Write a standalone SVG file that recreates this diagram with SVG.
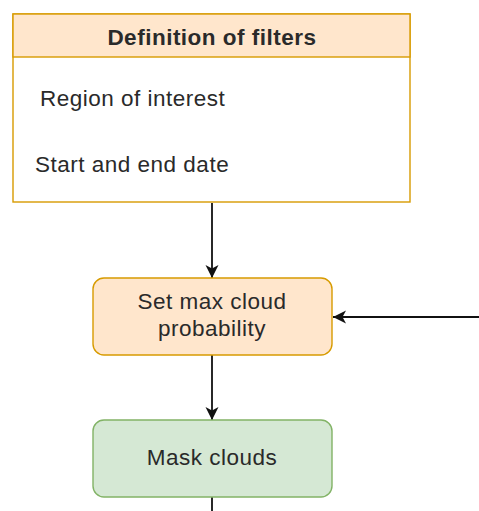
<svg xmlns="http://www.w3.org/2000/svg" width="479" height="511" viewBox="0 0 479 511">
<defs>
<style>
text{font-family:"Liberation Sans",Arial,sans-serif;font-size:22.5px;fill:#2a2a2a;letter-spacing:0.5px}
.orange{fill:#ffe6cc;stroke:#d79b00;stroke-width:1.4}
.green{fill:#d5e8d4;stroke:#82b366;stroke-width:1.4}
.edge{stroke:#111;stroke-width:1.8;fill:none}
</style>
<marker id="arr" markerWidth="14" markerHeight="14" refX="13" refY="6.5" orient="auto" markerUnits="userSpaceOnUse"><path d="M0,0 L13,6.5 L0,13 L3.5,6.5 Z" fill="#111"/></marker>
</defs>
<rect width="479" height="511" fill="#fff"/>
<g id="connectors">
<line class="edge" x1="212" y1="203" x2="212" y2="278" marker-end="url(#arr)"/>
<line class="edge" x1="479" y1="317" x2="333" y2="317" marker-end="url(#arr)"/>
<line class="edge" x1="212" y1="355" x2="212" y2="420" marker-end="url(#arr)"/>
<line class="edge" x1="212" y1="497" x2="212" y2="511"/>
</g>
<g id="filters">
<rect x="13" y="14" width="397" height="188" fill="#fff" stroke="#d79b00" stroke-width="1.4"/>
<rect class="orange" x="13" y="14" width="397" height="43"/>
<text x="212" y="45" text-anchor="middle" font-weight="bold">Definition of filters</text>
<text x="40" y="106">Region of interest</text>
<text x="35" y="172">Start and end date</text>
</g>
<g id="cloudprob">
<rect class="orange" x="93" y="278" width="239" height="77" rx="11"/>
<text x="212" y="309" text-anchor="middle">Set max cloud</text>
<text x="212" y="336" text-anchor="middle">probability</text>
</g>
<g id="mask">
<rect class="green" x="93" y="420" width="239" height="77" rx="11"/>
<text x="212" y="465" text-anchor="middle">Mask clouds</text>
</g>
</svg>
